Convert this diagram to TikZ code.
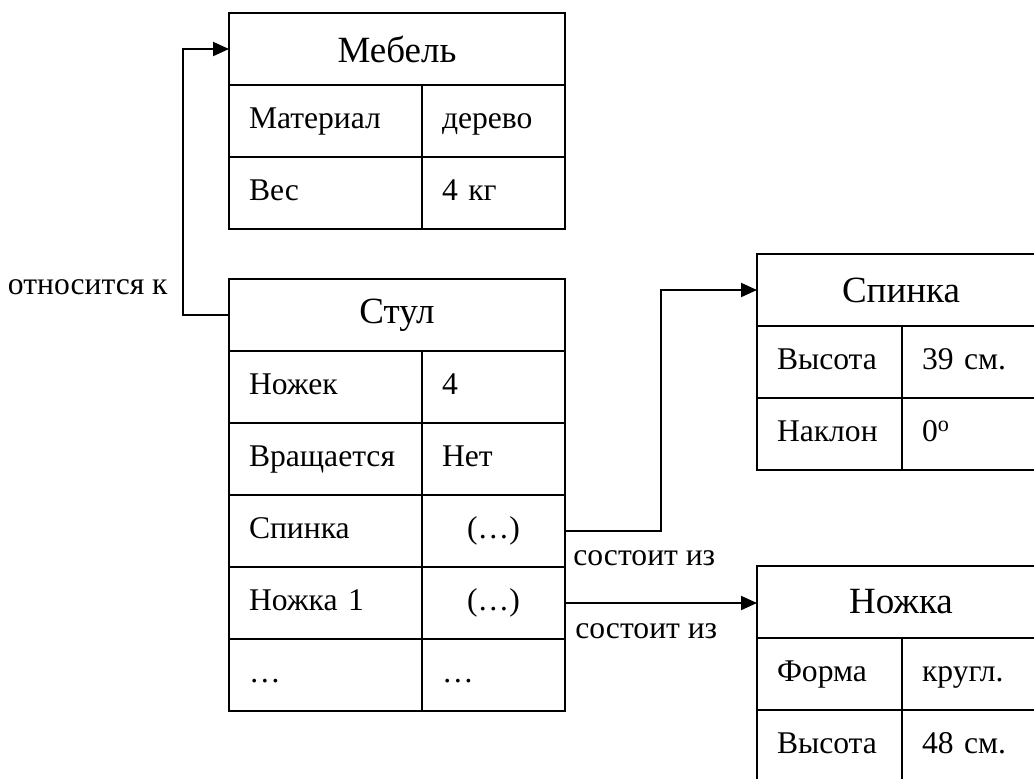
\documentclass[tikz,border=0pt]{standalone}
\usepackage{fontspec}
\setmainfont{Liberation Serif}
\usepackage{tikz}
\usetikzlibrary{arrows.meta, positioning, calc}

\begin{document}
\begin{tikzpicture}[x=0.5pt, y=-0.5pt,
    head/.style={draw, line width=1pt, outer sep=0pt, minimum width=#1, minimum height=36pt, inner sep=0pt, anchor=north west, font=\fontsize{18.5}{20}\selectfont},
    cell/.style={draw, line width=1pt, outer sep=0pt, text width=#1, text height=11pt, text depth=3.5pt, minimum height=36pt, inner xsep=10pt, inner ysep=0pt, align=left, anchor=north west, font=\fontsize{15.8}{18}\selectfont},
    mid/.style={align=center},
    lbl/.style={inner sep=0pt, font=\fontsize{15.8}{18}\selectfont},
    link/.style={line width=1pt, -{Triangle[length=8pt, width=7pt]}}]
    \useasboundingbox (0,0) rectangle (1034,778);
    \clip (0,0) rectangle (1034,778);

    \node[head=168pt] (mebel) at (229,13) {Мебель};
    \node[cell=76.5pt] (mebel-k1) at (mebel.south west) {Материал};
    \node[cell=51.5pt] (mebel-v1) at (mebel-k1.north east) {дерево};
    \node[cell=76.5pt] (mebel-k2) at (mebel-k1.south west) {Вес};
    \node[cell=51.5pt] (mebel-v2) at (mebel-k2.north east) {4 кг};

    \node[head=168pt] (stul) at (229,279) {Стул};
    \node[cell=76.5pt] (stul-k1) at (stul.south west) {Ножек};
    \node[cell=51.5pt] (stul-v1) at (stul-k1.north east) {4};
    \node[cell=76.5pt] (stul-k2) at (stul-k1.south west) {Вращается};
    \node[cell=51.5pt] (stul-v2) at (stul-k2.north east) {Нет};
    \node[cell=76.5pt] (stul-k3) at (stul-k2.south west) {Спинка};
    \node[cell=51.5pt, mid] (stul-v3) at (stul-k3.north east) {(…)};
    \node[cell=76.5pt] (stul-k4) at (stul-k3.south west) {Ножка 1};
    \node[cell=51.5pt, mid] (stul-v4) at (stul-k4.north east) {(…)};
    \node[cell=76.5pt] (stul-k5) at (stul-k4.south west) {…};
    \node[cell=51.5pt] (stul-v5) at (stul-k5.north east) {…};

    \node[head=144pt] (spinka) at (757,254) {Спинка};
    \node[cell=52.5pt] (spinka-k1) at (spinka.south west) {Высота};
    \node[cell=51.5pt] (spinka-v1) at (spinka-k1.north east) {39 см.};
    \node[cell=52.5pt] (spinka-k2) at (spinka-k1.south west) {Наклон};
    \node[cell=51.5pt] (spinka-v2) at (spinka-k2.north east) {0\textsuperscript{o}};

    \node[head=144pt] (nozhka) at (757,566) {Ножка};
    \node[cell=52.5pt] (nozhka-k1) at (nozhka.south west) {Форма};
    \node[cell=51.5pt] (nozhka-v1) at (nozhka-k1.north east) {кругл.};
    \node[cell=52.5pt] (nozhka-k2) at (nozhka-k1.south west) {Высота};
    \node[cell=51.5pt] (nozhka-v2) at (nozhka-k2.north east) {48 см.};

    \draw[link] (stul.west) -- ++(-46,0) coordinate (relbend) |- (mebel.west);
    \node[lbl, anchor=base east] (rel) at ([shift={(-7.5pt,10.5pt)}]relbend) {относится к};

    \draw[link] (stul-v3.east) -- ++(96,0) |- (spinka.west);
    \node[lbl, anchor=base west] (part1) at ([shift={(4pt,-17pt)}]stul-v3.east) {состоит из};

    \draw[link] (stul-v4.east) -- (stul-v4.east -| nozhka.west);
    \node[lbl, anchor=base west] (part2) at ([shift={(5pt,-17.5pt)}]stul-v4.east) {состоит из};
\end{tikzpicture}
\end{document}
